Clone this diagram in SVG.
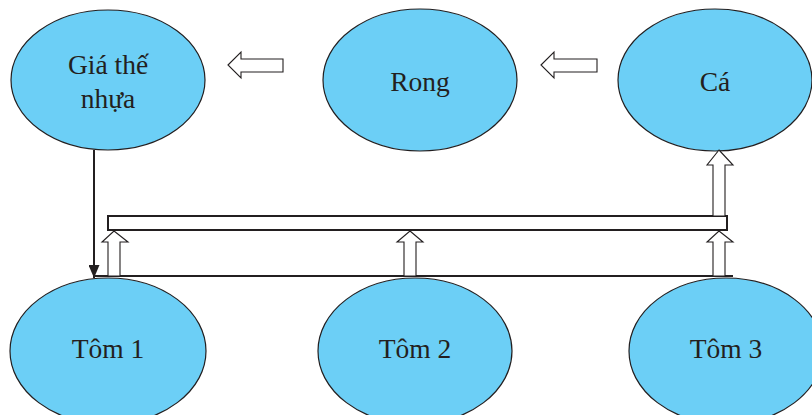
<svg xmlns="http://www.w3.org/2000/svg" width="812" height="415" viewBox="0 0 812 415">
<style>
.node ellipse{fill:#6ccff6;stroke:#231f20;stroke-width:1.2}
.node text{font-family:"Liberation Serif","DejaVu Serif",serif;font-size:27.5px;fill:#231f20;text-anchor:middle}
.hollow{fill:#fff;stroke:#231f20;stroke-width:1.1;stroke-linejoin:miter}
.line{stroke:#231f20;stroke-width:2;fill:none}
</style>
<defs>
<marker id="ah" viewBox="0 0 13 11" refX="13" refY="5.5" markerWidth="13" markerHeight="11" markerUnits="userSpaceOnUse" orient="auto">
<path d="M0,0 L13,5.5 L0,11 Z" fill="#231f20"/>
</marker>
</defs>
<rect width="812" height="415" fill="#fff"/>
<g id="giathe" class="node"><ellipse cx="108" cy="80" rx="97" ry="70"/><text x="108" y="74">Giá thế</text><text x="108" y="108">nhựa</text></g>
<g id="rong" class="node"><ellipse cx="420" cy="80" rx="97" ry="71"/><text x="420" y="91">Rong</text></g>
<g id="ca" class="node"><ellipse cx="715" cy="80" rx="97" ry="71"/><text x="715" y="91">Cá</text></g>
<g id="tom1" class="node"><ellipse cx="108" cy="351" rx="98" ry="73"/><text x="108" y="358">Tôm 1</text></g>
<g id="tom2" class="node"><ellipse cx="415" cy="351" rx="97" ry="73"/><text x="415" y="358">Tôm 2</text></g>
<g id="tom3" class="node"><ellipse cx="726" cy="351" rx="97" ry="73"/><text x="726" y="358">Tôm 3</text></g>
<g id="connectors">
<polygon class="hollow" points="228,65 241,52 241,59 283,59 283,72 241,72 241,78"/>
<polygon class="hollow" points="541,65 554,52 554,59 597,59 597,72 554,72 554,78"/>
<line class="line" x1="94" y1="150" x2="94" y2="278" marker-end="url(#ah)"/>
<rect x="108" y="216" width="619" height="14" fill="#fff" stroke="#231f20" stroke-width="2"/>
<line class="line" x1="94" y1="276" x2="733" y2="276"/>
<polygon class="hollow" points="114,231 128,242 120,242 120,276 108,276 108,242 102,242"/>
<polygon class="hollow" points="410,231 423,242 416,242 416,276 404,276 404,242 397,242"/>
<polygon class="hollow" points="719,231 733,242 725,242 725,276 713,276 713,242 707,242"/>
<polygon class="hollow" points="719,150 733,165 725,165 725,216 713,216 713,165 707,165"/>
</g>
</svg>
